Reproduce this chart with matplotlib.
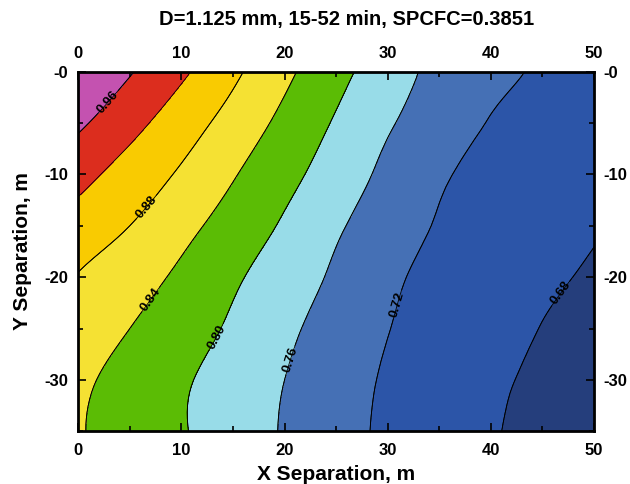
import numpy as np
import matplotlib.pyplot as plt
import matplotlib.tri as mtri
from matplotlib.colors import ListedColormap, BoundaryNorm
from matplotlib.ticker import MultipleLocator

plt.rcParams['font.family'] = ['Liberation Sans', 'DejaVu Sans']

# ---- data ----
X_SEP = [0, 5, 10, 15, 20, 25, 30, 35, 40, 45, 50]
Y_SEP = [0, -5, -10, -15, -20, -25, -30, -35]
# correlation, one row per Y_SEP value
ROW_0   = [0.997, 0.963, 0.927, 0.888, 0.849, 0.812, 0.779, 0.749, 0.731, 0.715, 0.701]
ROW_5   = [0.967, 0.933, 0.899, 0.865, 0.830, 0.796, 0.764, 0.740, 0.718, 0.706, 0.695]
ROW_10  = [0.933, 0.904, 0.875, 0.843, 0.812, 0.781, 0.751, 0.725, 0.710, 0.699, 0.689]
ROW_15  = [0.904, 0.880, 0.852, 0.824, 0.795, 0.765, 0.740, 0.717, 0.705, 0.694, 0.683]
ROW_20  = [0.878, 0.856, 0.833, 0.806, 0.780, 0.754, 0.728, 0.710, 0.699, 0.687, 0.675]
ROW_25  = [0.862, 0.840, 0.818, 0.794, 0.768, 0.744, 0.721, 0.707, 0.693, 0.679, 0.667]
ROW_30  = [0.848, 0.826, 0.805, 0.783, 0.760, 0.737, 0.716, 0.701, 0.686, 0.674, 0.662]
ROW_35  = [0.843, 0.823, 0.803, 0.780, 0.757, 0.734, 0.714, 0.699, 0.683, 0.669, 0.655]

LEVELS = [0.60, 0.68, 0.72, 0.76, 0.80, 0.84, 0.88, 0.92, 0.96, 1.01]
LINE_LEVELS = [0.68, 0.72, 0.76, 0.80, 0.84, 0.88, 0.92, 0.96]
LABEL_LEVELS = [0.68, 0.72, 0.76, 0.80, 0.84, 0.88, 0.96]
FILL_COLORS = ["#253E7C", "#2C55A8", "#4570B5", "#98DCE8", "#5BBC05",
               "#F5E133", "#F9CB01", "#DC2D1E", "#C452B0"]

TITLE = "D=1.125 mm, 15-52 min, SPCFC=0.3851"
X_TICKS = [0, 10, 20, 30, 40, 50]
Y_TICKS = [0, -10, -20, -30]
Y_TICKLABELS = ["-0", "-10", "-20", "-30"]

# label anchor spots (layout only)
LABEL_SPOTS = [(46.4, -21.3), (31.2, -22.7), (20.7, -28.1), (13.4, -25.8),
               (7.1, -22.2), (6.8, -13.3), (3.1, -3.1)]


def grid_triangles(nx, ny):
    # same diagonal in every cell, running along the contour direction
    tris = []
    for i in range(ny - 1):
        for j in range(nx - 1):
            a = i * nx + j
            b = a + 1
            c = a + nx
            d = c + 1
            tris.append((a, b, c))
            tris.append((b, d, c))
    return np.array(tris)


def main():
    z = np.array([ROW_0, ROW_5, ROW_10, ROW_15, ROW_20, ROW_25, ROW_30, ROW_35])
    xx, yy = np.meshgrid(X_SEP, Y_SEP)

    # let matplotlib smooth the coarse grid (cubic on a refined triangulation)
    tri = mtri.Triangulation(xx.ravel(), yy.ravel(),
                             grid_triangles(len(X_SEP), len(Y_SEP)))
    interp = mtri.CubicTriInterpolator(tri, z.ravel(), kind="min_E")
    refiner = mtri.UniformTriRefiner(tri)
    tri_f, z_f = refiner.refine_field(z.ravel(), triinterpolator=interp, subdiv=3)

    fig = plt.figure(figsize=(6.3, 4.84), dpi=100)
    ax = fig.add_axes([0.124, 0.1085, 0.819, 0.7435])

    cmap = ListedColormap(FILL_COLORS)
    norm = BoundaryNorm(LEVELS, cmap.N)
    ax.tricontourf(tri_f, z_f, levels=LEVELS, cmap=cmap, norm=norm)
    ax.tricontour(tri_f, z_f, levels=LINE_LEVELS, colors="black", linewidths=0.6)
    lab_cs = ax.tricontour(tri_f, z_f, levels=LABEL_LEVELS, colors="black",
                           linewidths=0.6)
    labels = ax.clabel(lab_cs, fmt="%.2f", fontsize=9.5, inline=True,
                       inline_spacing=2, manual=LABEL_SPOTS)
    for t in labels:
        t.set_fontweight("bold")

    ax.set_xlim(0, 50)
    ax.set_ylim(-35, 0)
    ax.set_xticks(X_TICKS)
    ax.set_yticks(Y_TICKS)
    ax.set_yticklabels(Y_TICKLABELS)
    ax.xaxis.set_minor_locator(MultipleLocator(5))
    ax.yaxis.set_minor_locator(MultipleLocator(5))
    ax.tick_params(which="both", direction="in", top=True, right=True,
                   labeltop=True, labelright=True, width=1.2)
    ax.tick_params(which="major", length=6, labelsize=12, pad=7)
    ax.tick_params(axis="x", which="major", pad=8)
    ax.tick_params(which="minor", length=3.5)
    for sp in ax.spines.values():
        sp.set_linewidth(2.0)

    ax.set_xlabel("X Separation, m", fontsize=15, fontweight="bold", labelpad=5)
    ax.set_ylabel("Y Separation, m", fontsize=15, fontweight="bold", labelpad=9)
    fig.text(0.55, 0.959, TITLE, ha="center", va="center", fontsize=14.5,
             fontweight="bold")

    for tick in ax.xaxis.get_major_ticks() + ax.yaxis.get_major_ticks():
        tick.label1.set_fontweight("bold")
        tick.label2.set_fontweight("bold")

    fig.savefig("out.png", dpi=100)
    plt.close(fig)


if __name__ == "__main__":
    main()
